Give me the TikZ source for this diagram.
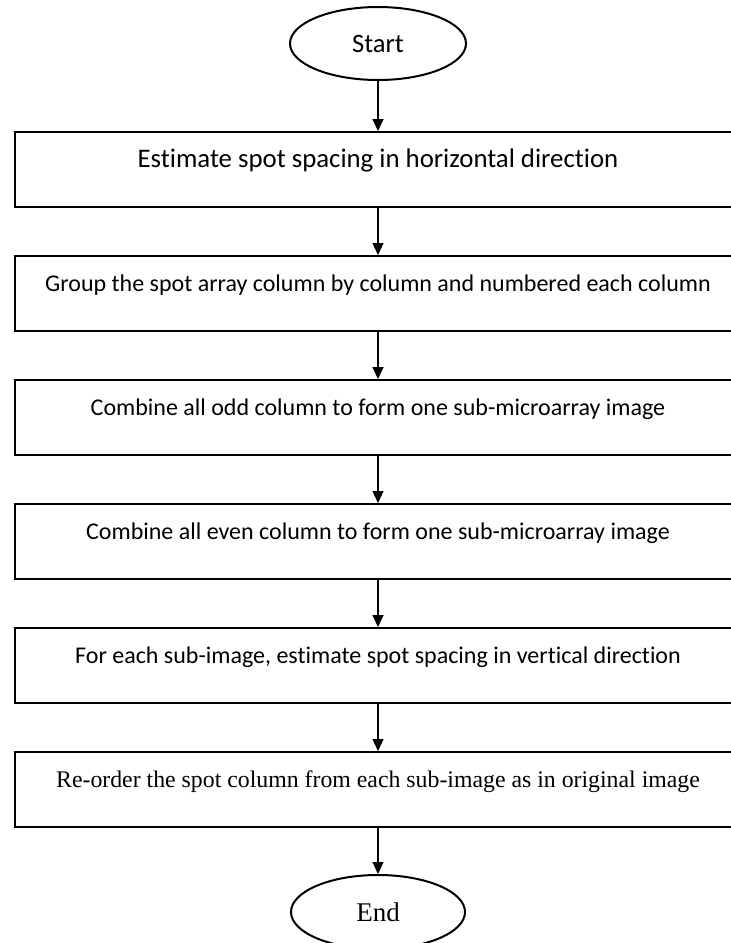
\documentclass[tikz,border=0pt]{standalone}
\usepackage{fontspec}
\setmainfont{Carlito}[Ligatures=NoCommon]
\newfontfamily\timesfont{Liberation Serif}
\usetikzlibrary{shapes.geometric,arrows.meta}

\begin{document}
\begin{tikzpicture}[
                    >={Triangle[length=6pt,width=5.5pt]},
                x=1pt, y=1pt,
                stepbox/.style={draw, line width=1pt, minimum width=363pt,
                  inner xsep=0pt, inner ysep=0pt, text height=17.5pt, text depth=20pt,
                  font=\fontsize{12}{14}\selectfont},
                term/.style={draw, ellipse, line width=1pt, minimum width=88pt,
                  minimum height=36.5pt, inner sep=0pt, font=\fontsize{13.3}{16}\selectfont},
                flow/.style={->, line width=0.6pt}]

                \useasboundingbox (0,0) rectangle (365.5,-471.5);

                \draw(189,-21.75) node[term] (start) {Start};
                \draw(189,-84.75) node[stepbox, font=\fontsize{13.4}{16}\selectfont] (est) {Estimate spot spacing in horizontal direction};
                \draw(189,-146.75) node[stepbox] (group) {Group the spot array column by column and numbered each column};
                \draw(189,-208.75) node[stepbox] (odd) {Combine all odd column to form one sub-microarray image};
                \draw(189,-270.75) node[stepbox] (even) {Combine all even column to form one sub-microarray image};
                \draw(189,-332.75) node[stepbox] (vert) {For each sub-image, estimate spot spacing in vertical direction};
                \draw(189,-394.75) node[stepbox, font=\timesfont\fontsize{11.9}{14}\selectfont] (reorder) {Re-order the spot column from each sub-image as in original image};
                \draw(189,-456) node[term, minimum width=87pt, minimum height=37pt, font=\timesfont\fontsize{13.5}{16}\selectfont] (end) {End};

                \draw[flow] (start) to (est);
                \draw[flow] (est) to (group);
                \draw[flow] (group) to (odd);
                \draw[flow] (odd) to (even);
                \draw[flow] (even) to (vert);
                \draw[flow] (vert) to (reorder);
                \draw[flow] (reorder) to (end);

            \end{tikzpicture}
\end{document}
